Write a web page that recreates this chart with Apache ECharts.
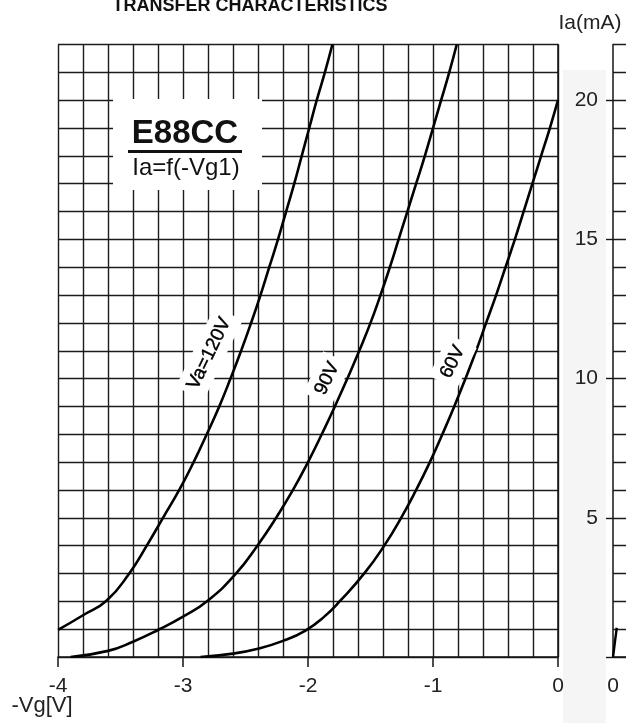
<!DOCTYPE html>
<html><head><meta charset="utf-8">
<script src="https://cdn.jsdelivr.net/npm/echarts@6/dist/echarts.min.js"></script>
<style>html,body{margin:0;padding:0;background:#fff}#c{width:626px;height:723px}</style>
</head><body><div id="c"></div>
<script>
// ---- data ----
const xTicks = [-4, -3, -2, -1, 0];
const yTicks = [5, 10, 15, 20];

const vg120 = [-4.00, -3.80, -3.61, -3.43, -3.29, -3.16, -3.03, -2.915, -2.81, -2.71, -2.62, -2.535, -2.455, -2.38, -2.31, -2.24, -2.175, -2.11, -2.05, -1.99, -1.93, -1.865, -1.805];
const ia120 = [0.97, 1.5, 2.03, 3, 4, 5, 6, 7, 8, 9, 10, 11, 12, 13, 14, 15, 16, 17, 18, 19, 20, 21, 22];

const vg90 = [-3.90, -3.60, -3.40, -3.20, -3.00, -2.80, -2.575, -2.405, -2.255, -2.12, -2.00, -1.89, -1.785, -1.685, -1.59, -1.50, -1.42, -1.345, -1.275, -1.205, -1.135, -1.065, -1.00, -0.935, -0.87, -0.81];
const ia90 = [0, 0.22, 0.55, 0.97, 1.45, 2.03, 3, 4, 5, 6, 7, 8, 9, 10, 11, 12, 13, 14, 15, 16, 17, 18, 19, 20, 21, 22];

const vg60 = [-2.86, -2.60, -2.40, -2.20, -2.02, -1.87, -1.74, -1.545, -1.39, -1.255, -1.135, -1.025, -0.925, -0.83, -0.74, -0.655, -0.575, -0.495, -0.42, -0.345, -0.275, -0.205, -0.135, -0.065, 0.0];
const ia60 = [0, 0.12, 0.30, 0.58, 0.95, 1.45, 2.03, 3.03, 4, 5, 6, 7, 8, 9, 10, 11, 12, 13, 14, 15, 16, 17, 18, 19, 20];

// neighbouring (cut-off) chart on the right
const nextX = [0, 0.6];
const nextI = [0, 1.05];

// curve labels
const labelText = ['Va=120V', '90V', '60V'];
const labelV = [-2.79, -1.846, -0.842];
const labelI = [10.9, 10.0, 10.6];

// ---- chart ----
const FONT = '"Liberation Sans", Arial, Helvetica, sans-serif';
const INK = '#141414';
const zip = (a, b) => a.map((v, i) => [v, b[i]]);

const G = { left: 58, top: 44.5, width: 500, height: 612.5 };
const G2left = 613;
const yMax = 22, yLabMax = 20;

const gridLine = { color: '#1c1c1c', width: 1.4 };

const chart = echarts.init(document.getElementById('c'), null, { renderer: 'canvas' });

const curve = (v, i) => ({
  type: 'line', xAxisIndex: 0, yAxisIndex: 0, data: zip(v, i),
  showSymbol: false, smooth: 0.5, clip: true,
  lineStyle: { color: '#000', width: 2.6 }, z: 5
});

const baseGraphic = [
  { type: 'rect', z: -10, shape: { x: 563, y: 70, width: 43, height: 653 }, style: { fill: '#f5f5f5' } },
  { type: 'text', z: 100, x: 250, y: 6, style: { text: 'TRANSFER CHARACTERISTICS', font: 'bold 18px ' + FONT, fill: '#111', align: 'center', verticalAlign: 'middle' } },
  { type: 'text', z: 100, x: 590, y: 23, style: { text: 'Ia(mA)', font: '21px ' + FONT, fill: '#222', align: 'center', verticalAlign: 'middle' } },
  { type: 'text', z: 100, x: 42, y: 706, style: { text: '-Vg[V]', font: '22px ' + FONT, fill: '#222', align: 'center', verticalAlign: 'middle' } },
  { type: 'rect', z: 100, shape: { x: 113, y: 99, width: 149, height: 91 }, style: { fill: '#fff' } },
  { type: 'text', z: 101, x: 185, y: 134, style: { text: 'E88CC', font: 'bold 33px ' + FONT, fill: '#111', align: 'center', verticalAlign: 'middle' } },
  { type: 'rect', z: 101, shape: { x: 128, y: 150, width: 114, height: 3 }, style: { fill: '#111' } },
  { type: 'text', z: 101, x: 186, y: 168, style: { text: 'Ia=f(-Vg1)', font: '24px ' + FONT, fill: '#111', align: 'center', verticalAlign: 'middle' } }
];

const option = {
  animation: false,
  backgroundColor: '#fff',
  grid: [
    { left: G.left, top: G.top, width: G.width, height: G.height },
    { left: G2left, top: G.top, width: 300, height: G.height },
    { left: G2left, top: G.top + G.height * (yMax - yLabMax) / yMax, width: 300, height: G.height * yLabMax / yMax }
  ],
  xAxis: [
    {
      gridIndex: 0, type: 'value', min: xTicks[0], max: xTicks[xTicks.length - 1], interval: 1,
      axisLine: { show: true, onZero: false, lineStyle: { color: INK, width: 1.5 } },
      axisTick: { show: true, length: 10, lineStyle: { color: INK, width: 1.5 } },
      axisLabel: { margin: 19, fontSize: 21, color: '#222', fontFamily: FONT,
        formatter: v => xTicks.includes(Math.round(v * 100) / 100) ? String(Math.round(v)) : '' },
      splitLine: { show: true, lineStyle: gridLine },
      minorTick: { show: false, splitNumber: 5 },
      minorSplitLine: { show: true, lineStyle: gridLine }
    },
    {
      gridIndex: 1, type: 'value', min: 0, max: 12, interval: 1,
      axisLine: { show: true, onZero: false, lineStyle: { color: INK, width: 1.5 } },
      axisTick: { show: false },
      axisLabel: { margin: 19, fontSize: 21, color: '#222', fontFamily: FONT, formatter: v => v === 0 ? '0' : '' },
      splitLine: { show: false }
    },
    { gridIndex: 2, type: 'value', min: 0, max: 12, show: false }
  ],
  yAxis: [
    {
      gridIndex: 0, type: 'value', min: 0, max: yMax, interval: 1,
      axisLine: { show: true, lineStyle: { color: INK, width: 1.5 } },
      axisTick: { show: false }, axisLabel: { show: false },
      splitLine: { show: true, lineStyle: gridLine }
    },
    {
      gridIndex: 1, type: 'value', min: 0, max: yMax, interval: 1,
      axisLine: { show: true, lineStyle: { color: INK, width: 1.5 } },
      axisTick: { show: false }, axisLabel: { show: false },
      splitLine: { show: true, lineStyle: gridLine }
    },
    {
      gridIndex: 2, type: 'value', min: 0, max: yLabMax, interval: 5,
      axisLine: { show: false },
      axisTick: { show: true, inside: false, length: 7, lineStyle: { color: INK, width: 1.4 } },
      axisLabel: { show: true, margin: 15, fontSize: 21, color: '#222', fontFamily: FONT,
        formatter: v => yTicks.includes(v) ? String(v) : '' },
      splitLine: { show: false }
    }
  ],
  series: [
    curve(vg120, ia120),
    curve(vg90, ia90),
    curve(vg60, ia60),
    {
      type: 'line', xAxisIndex: 1, yAxisIndex: 1, data: zip(nextX, nextI),
      showSymbol: false, clip: true, lineStyle: { color: '#000', width: 2.4 }
    }
  ],
  graphic: baseGraphic
};
chart.setOption(option);

// curve labels placed at data coordinates through the chart's own scales
const labelGraphic = labelText.map((t, k) => {
  const p = chart.convertToPixel({ xAxisIndex: 0, yAxisIndex: 0 }, [labelV[k], labelI[k]]);
  return {
    type: 'text', z: 50, x: p[0], y: p[1], rotation: 64 * Math.PI / 180,
    style: { text: t, font: '19px ' + FONT, fill: '#000', stroke: '#000', lineWidth: 0.4,
      align: 'center', verticalAlign: 'middle', backgroundColor: '#fff', padding: [6, 6] }
  };
});
chart.setOption({ graphic: baseGraphic.concat(labelGraphic) }, { replaceMerge: ['graphic'] });
</script>
</body></html>
